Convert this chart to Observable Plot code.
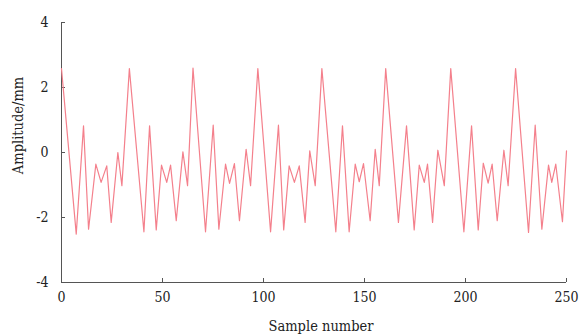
<!DOCTYPE html>
<html><head><meta charset="utf-8">
<script src="https://cdn.jsdelivr.net/npm/d3@7"></script>
<script src="https://cdn.jsdelivr.net/npm/@observablehq/plot@0.6"></script>
<style>
body{margin:0;background:#fff}
svg, svg text {font-family: "DejaVu Serif Condensed", "DejaVu Serif", serif !important; font-stretch: condensed;}
</style>
</head><body><div id="chart"></div>
<script>
const sampleNumber = [0, 7.3, 10.9, 13.4, 17, 19.6, 22.4, 24.6, 27.9, 29.9,
  33.6, 40.8, 43.6, 46.9, 49.5, 52.1, 54, 56.8, 60.1, 62.4,
  65.1, 71.3, 75.1, 77.9, 81.2, 83.2, 85.6, 88.1, 91.4, 93.6,
  97.2, 103.5, 107.4, 110, 112.7, 115.3, 117.7, 120.6, 122.9, 125.6,
  128.9, 135.8, 139.1, 142.4, 145.4, 147.4, 149.5, 152.8, 155.3, 157.3,
  160.5, 166.8, 170.8, 174.6, 177.1, 179.6, 181.2, 183.7, 186.3, 189.5,
  192.7, 199.2, 203, 206.3, 208.8, 211.2, 213.2, 215.7, 219, 221.1,
  224.8, 231.2, 234.5, 237.8, 241.1, 242.7, 244.7, 248, 250];
const amplitude = [2.58, -2.51, 0.82, -2.36, -0.36, -0.92, -0.41, -2.15, 0.0, -1.02,
  2.58, -2.44, 0.82, -2.38, -0.39, -0.92, -0.39, -2.1, 0.02, -1.02,
  2.6, -2.44, 0.84, -2.36, -0.36, -0.95, -0.34, -2.1, 0.1, -1.02,
  2.58, -2.44, 0.84, -2.38, -0.41, -0.92, -0.41, -2.15, 0.05, -1.02,
  2.58, -2.44, 0.82, -2.44, -0.36, -0.9, -0.34, -2.1, 0.1, -1.02,
  2.58, -2.15, 0.82, -2.38, -0.39, -0.92, -0.36, -2.15, 0.07, -1.02,
  2.58, -2.44, 0.82, -2.38, -0.33, -0.94, -0.36, -2.1, 0.07, -1.02,
  2.58, -2.46, 0.84, -2.36, -0.39, -0.92, -0.36, -2.13, 0.05];
const xTicks = [0, 50, 100, 150, 200, 250];
const yTicks = [-4, -2, 0, 2, 4];
const xLabel = "Sample number";
const yLabel = "Amplitude/mm";

const data = sampleNumber.map((x, i) => ({x, y: amplitude[i]}));
const axisColor = "#555";
const chart = Plot.plot({
  width: 582, height: 336,
  marginLeft: 61, marginRight: 16, marginTop: 22, marginBottom: 54,
  style: {fontSize: "14px", color: "#222", background: "#fff", overflow: "visible"},
  x: {domain: [0, 250]},
  y: {domain: [-4, 4]},
  marks: [
    Plot.ruleX([0], {stroke: axisColor}),
    Plot.ruleY([-4], {stroke: axisColor}),
    Plot.axisX({ticks: xTicks, tickSize: -4, tickPadding: 14, label: null, stroke: axisColor, fill: "#222", fontSize: 14, tickFormat: d => String(d)}),
    Plot.axisY({ticks: yTicks, tickSize: -4, tickPadding: 17, label: null, stroke: axisColor, fill: "#222", fontSize: 14, tickFormat: d => String(d)}),
    Plot.line(data, {x: "x", y: "y", stroke: "#f4808c", strokeWidth: 1.2}),
    Plot.text([xLabel], {frameAnchor: "bottom", dx: 7, dy: 48, fontSize: 14.5, fill: "#222"}),
    Plot.text([yLabel], {frameAnchor: "left", textAnchor: "middle", dx: -43, dy: -27, rotate: -90, fontSize: 14.5, fill: "#222"})
  ]
});
document.getElementById("chart").append(chart);
</script>
</body></html>
